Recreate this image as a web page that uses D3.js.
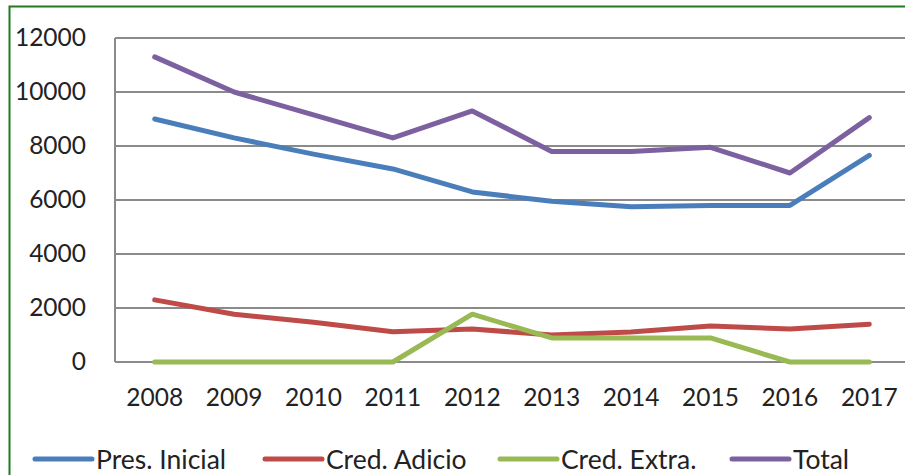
<!DOCTYPE html>
<html>
<head>
<meta charset="utf-8">
<script src="https://cdn.jsdelivr.net/npm/d3@7"></script>
<style>
  html, body { margin: 0; padding: 0; background: #fff; }
  svg { display: block; }
</style>
</head>
<body>
<svg id="here"></svg>
<script>
const years = ["2008","2009","2010","2011","2012","2013","2014","2015","2016","2017"];
const presInicial = [9000, 8300, 7700, 7150, 6300, 5950, 5750, 5800, 5800, 7650];
const credAdicio  = [2300, 1770, 1470, 1120, 1220, 1000, 1110, 1330, 1220, 1400];
const credExtra   = [0, 0, 0, 0, 1770, 890, 890, 890, 0, 0];
const total       = [11300, 10000, 9150, 8300, 9300, 7800, 7800, 7950, 7000, 9050];
const seriesNames = ["Pres. Inicial", "Cred. Adicio", "Cred. Extra.", "Total"];
const yTicks = [0, 2000, 4000, 6000, 8000, 10000, 12000];

const series = [
  {name: seriesNames[0], values: presInicial, color: "#4a7ebb"},
  {name: seriesNames[1], values: credAdicio, color: "#be4b48"},
  {name: seriesNames[2], values: credExtra, color: "#98b954"},
  {name: seriesNames[3], values: total, color: "#7d60a0"}
];

const width = 905, height = 475;
const margin = {top: 38, right: -4, bottom: 113, left: 115};
const font = "Lato, 'Open Sans', sans-serif";

const svg = d3.select("#here").attr("width", width).attr("height", height);

// green frame
svg.append("rect")
  .attr("x", 9.5).attr("y", 6.5)
  .attr("width", 1000).attr("height", 1000)
  .attr("fill", "#fff")
  .attr("stroke", "#217a21")
  .attr("stroke-width", 2);

const x = d3.scaleBand()
  .domain(years)
  .range([margin.left, width - margin.right]);

const y = d3.scaleLinear()
  .domain([0, 12000])
  .range([height - margin.bottom, margin.top]);

// grid
svg.append("g")
  .selectAll("line")
  .data(yTicks)
  .join("line")
  .attr("x1", margin.left).attr("x2", width)
  .attr("y1", d => y(d)).attr("y2", d => y(d))
  .attr("stroke", "#8a8a8a")
  .attr("stroke-width", 2);

svg.append("line")
  .attr("x1", margin.left).attr("x2", margin.left)
  .attr("y1", y(12000)).attr("y2", y(0))
  .attr("stroke", "#8a8a8a")
  .attr("stroke-width", 2);

// y axis labels
const yAxis = g => g
  .attr("transform", `translate(${margin.left - 29},0)`)
  .call(d3.axisLeft(y).tickValues(yTicks).tickFormat(d3.format("d")).tickSize(0).tickPadding(0))
  .call(g => g.select(".domain").remove())
  .call(g => g.selectAll("text")
    .attr("font-family", font).attr("font-size", 24.5).attr("fill", "#222"));
svg.append("g").call(yAxis);

// x axis labels
const xAxis = g => g
  .attr("transform", `translate(0,${y(0) + 27})`)
  .call(d3.axisBottom(x).tickSize(0).tickPadding(0))
  .call(g => g.select(".domain").remove())
  .call(g => g.selectAll("text")
    .attr("font-family", font).attr("font-size", 24.5).attr("fill", "#222"));
svg.append("g").call(xAxis);

const line = d3.line()
  .x((d, i) => x(years[i]) + x.bandwidth() / 2)
  .y(d => y(d));

svg.append("g")
  .selectAll("path")
  .data(series)
  .join("path")
  .attr("fill", "none")
  .attr("stroke", d => d.color)
  .attr("stroke-width", 5)
  .attr("stroke-linejoin", "round")
  .attr("stroke-linecap", "round")
  .attr("d", d => line(d.values));

// legend
const legendX = [35, 265, 500, 732];
const legendY = 459;
const lg = svg.append("g")
  .selectAll("g")
  .data(series)
  .join("g")
  .attr("transform", (d, i) => `translate(${legendX[i]},${legendY})`);
lg.append("line")
  .attr("x1", 0).attr("x2", 57)
  .attr("stroke", d => d.color)
  .attr("stroke-width", 5)
  .attr("stroke-linecap", "round");
lg.append("text")
  .attr("x", 61)
  .attr("dy", "0.36em")
  .attr("font-family", font).attr("font-size", 26.5).attr("fill", "#222")
  .text(d => d.name);
</script>
</body>
</html>
